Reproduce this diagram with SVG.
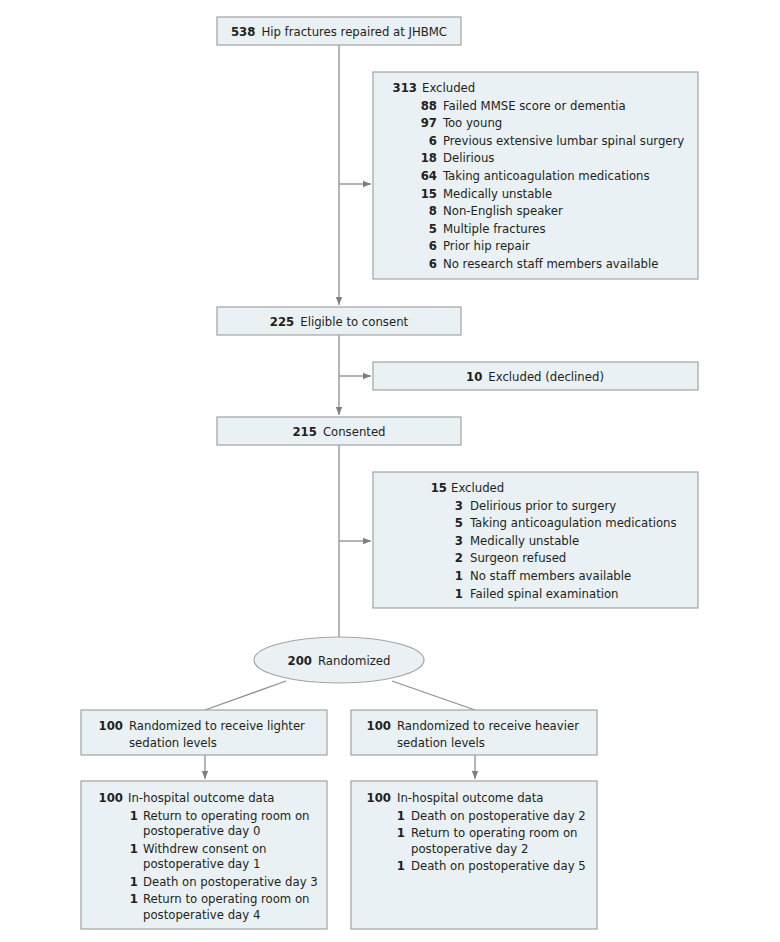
<svg xmlns="http://www.w3.org/2000/svg" width="780" height="942" viewBox="0 0 780 942">
<style>
  .box { fill: #e9f1f4; stroke: #a3a3a3; stroke-width: 1.2; }
  .ln { fill: none; stroke: #8f8f8f; stroke-width: 1.3; }
  text { font-family: "DejaVu Sans Condensed", "Liberation Sans Narrow", "Liberation Sans", sans-serif; font-size: 13px; fill: #231f20; }
  .b { font-weight: bold; }
  .r { text-anchor: end; }
  .m { text-anchor: middle; }
</style>
<defs>
  <marker id="ah" viewBox="0 0 8 8" refX="8" refY="4" markerWidth="8" markerHeight="8" markerUnits="userSpaceOnUse" orient="auto">
    <path d="M0,0.8 L8,4 L0,7.2 Z" fill="#7f7f7f"/>
  </marker>
</defs>
<rect width="780" height="942" fill="#ffffff"/>

<g id="connectors">
  <line class="ln" x1="339" y1="45" x2="339" y2="305" marker-end="url(#ah)"/>
  <line class="ln" x1="339" y1="184" x2="371" y2="184" marker-end="url(#ah)"/>
  <line class="ln" x1="339" y1="335" x2="339" y2="415" marker-end="url(#ah)"/>
  <line class="ln" x1="339" y1="376" x2="371" y2="376" marker-end="url(#ah)"/>
  <line class="ln" x1="339" y1="445" x2="339" y2="637"/>
  <line class="ln" x1="339" y1="541" x2="371" y2="541" marker-end="url(#ah)"/>
  <line class="ln" x1="286" y1="681" x2="205" y2="710"/>
  <line class="ln" x1="392" y1="681" x2="475" y2="710"/>
  <line class="ln" x1="205" y1="755" x2="205" y2="779" marker-end="url(#ah)"/>
  <line class="ln" x1="475" y1="755" x2="475" y2="779" marker-end="url(#ah)"/>
</g>

<g id="n538">
  <rect class="box" x="217" y="17" width="244" height="28"/>
  <text class="m" x="339" y="36"><tspan class="b">538</tspan><tspan dx="6">Hip fractures repaired at JHBMC</tspan></text>
</g>

<g id="excl313">
  <rect class="box" x="373" y="72" width="325" height="207"/>
  <text class="r b" x="417" y="92">313</text><text x="422" y="92">Excluded</text>
  <text class="r b" x="437" y="109.6">88</text><text x="443" y="109.6">Failed MMSE score or dementia</text>
  <text class="r b" x="437" y="127.2">97</text><text x="443" y="127.2">Too young</text>
  <text class="r b" x="437" y="144.8">6</text><text x="443" y="144.8">Previous extensive lumbar spinal surgery</text>
  <text class="r b" x="437" y="162.4">18</text><text x="443" y="162.4">Delirious</text>
  <text class="r b" x="437" y="180">64</text><text x="443" y="180">Taking anticoagulation medications</text>
  <text class="r b" x="437" y="197.6">15</text><text x="443" y="197.6">Medically unstable</text>
  <text class="r b" x="437" y="215.2">8</text><text x="443" y="215.2">Non-English speaker</text>
  <text class="r b" x="437" y="232.8">5</text><text x="443" y="232.8">Multiple fractures</text>
  <text class="r b" x="437" y="250.4">6</text><text x="443" y="250.4">Prior hip repair</text>
  <text class="r b" x="437" y="268">6</text><text x="443" y="268">No research staff members available</text>
</g>

<g id="n225">
  <rect class="box" x="217" y="307" width="244" height="28"/>
  <text class="m" x="339" y="326"><tspan class="b">225</tspan><tspan dx="6">Eligible to consent</tspan></text>
</g>

<g id="excl10">
  <rect class="box" x="373" y="362" width="325" height="28"/>
  <text class="m" x="535" y="381"><tspan class="b">10</tspan><tspan dx="6">Excluded (declined)</tspan></text>
</g>

<g id="n215">
  <rect class="box" x="217" y="417" width="244" height="28"/>
  <text class="m" x="339" y="436"><tspan class="b">215</tspan><tspan dx="6">Consented</tspan></text>
</g>

<g id="excl15">
  <rect class="box" x="373" y="472" width="325" height="136"/>
  <text class="r b" x="447" y="492">15</text><text x="451" y="492">Excluded</text>
  <text class="r b" x="463" y="509.6">3</text><text x="470" y="509.6">Delirious prior to surgery</text>
  <text class="r b" x="463" y="527.2">5</text><text x="470" y="527.2">Taking anticoagulation medications</text>
  <text class="r b" x="463" y="544.8">3</text><text x="470" y="544.8">Medically unstable</text>
  <text class="r b" x="463" y="562.4">2</text><text x="470" y="562.4">Surgeon refused</text>
  <text class="r b" x="463" y="580">1</text><text x="470" y="580">No staff members available</text>
  <text class="r b" x="463" y="597.6">1</text><text x="470" y="597.6">Failed spinal examination</text>
</g>

<g id="rand200">
  <ellipse class="box" cx="339" cy="660" rx="85" ry="23"/>
  <text class="m" x="339" y="665"><tspan class="b">200</tspan><tspan dx="6">Randomized</tspan></text>
</g>

<g id="lighter">
  <rect class="box" x="81" y="710" width="246" height="45"/>
  <text class="r b" x="123" y="730">100</text><text x="129" y="730">Randomized to receive lighter</text>
  <text x="129" y="747">sedation levels</text>
</g>

<g id="heavier">
  <rect class="box" x="351" y="710" width="246" height="45"/>
  <text class="r b" x="391" y="730">100</text><text x="397" y="730">Randomized to receive heavier</text>
  <text x="397" y="747">sedation levels</text>
</g>

<g id="outLight">
  <rect class="box" x="81" y="781" width="246" height="148"/>
  <text class="r b" x="123" y="802">100</text><text x="128" y="802">In-hospital outcome data</text>
  <text class="r b" x="138" y="819.5">1</text><text x="143" y="819.5">Return to operating room on</text>
  <text x="143" y="835">postoperative day 0</text>
  <text class="r b" x="138" y="852.5">1</text><text x="143" y="852.5">Withdrew consent on</text>
  <text x="143" y="868">postoperative day 1</text>
  <text class="r b" x="138" y="885.5">1</text><text x="143" y="885.5">Death on postoperative day 3</text>
  <text class="r b" x="138" y="903">1</text><text x="143" y="903">Return to operating room on</text>
  <text x="143" y="918.5">postoperative day 4</text>
</g>

<g id="outHeavy">
  <rect class="box" x="351" y="781" width="246" height="148"/>
  <text class="r b" x="391" y="802">100</text><text x="397" y="802">In-hospital outcome data</text>
  <text class="r b" x="405" y="819.5">1</text><text x="411" y="819.5">Death on postoperative day 2</text>
  <text class="r b" x="405" y="837">1</text><text x="411" y="837">Return to operating room on</text>
  <text x="411" y="852.5">postoperative day 2</text>
  <text class="r b" x="405" y="870">1</text><text x="411" y="870">Death on postoperative day 5</text>
</g>
</svg>
